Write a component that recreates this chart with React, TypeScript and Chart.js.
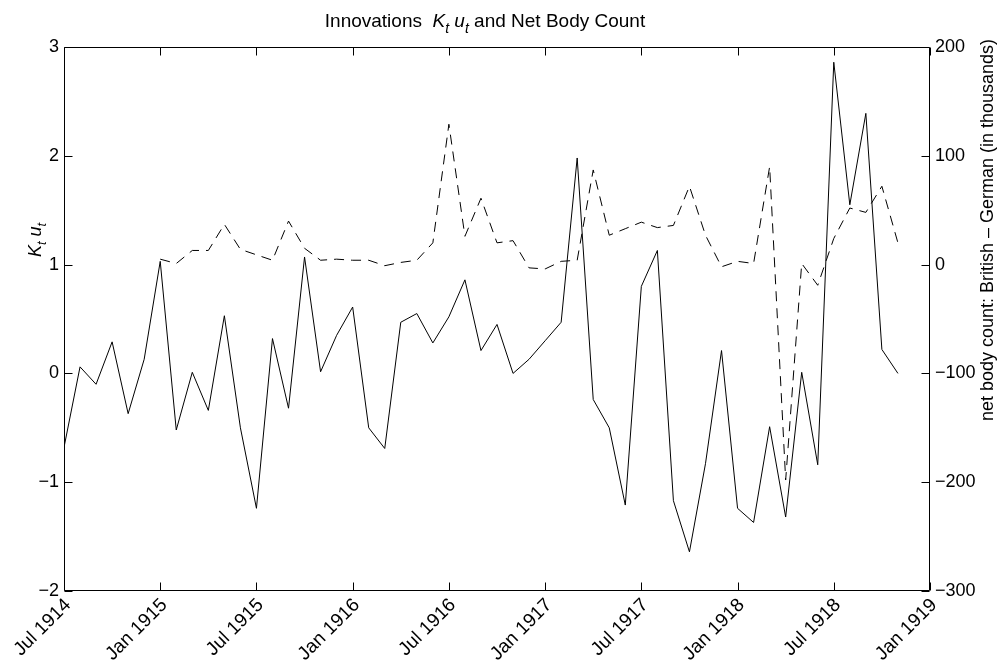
import React, { useEffect, useRef } from "react";
import { Chart, registerables } from "chart.js";

Chart.register(...registerables);

// month index 0 = Jul 1914
const tickMonths = [0, 6, 12, 18, 24, 30, 36, 42, 48, 54];
const tickLabels = [
  "Jul 1914", "Jan 1915", "Jul 1915", "Jan 1916", "Jul 1916",
  "Jan 1917", "Jul 1917", "Jan 1918", "Jul 1918", "Jan 1919",
];

// Innovations K_t u_t, monthly from Jul 1914 to Nov 1918
const kuValues = [
  -0.68, 0.06, -0.10, 0.29, -0.37, 0.13, 1.03, -0.52, 0.01, -0.34,
  0.53, -0.50, -1.24, 0.32, -0.32, 1.07, 0.015, 0.35, 0.61, -0.50,
  -0.69, 0.47, 0.55, 0.28, 0.52, 0.86, 0.21, 0.45, 0.00, 0.13,
  0.30, 0.47, 1.98, -0.24, -0.50, -1.21, 0.80, 1.13, -1.17, -1.64,
  -0.83, 0.21, -1.24, -1.37, -0.49, -1.32, 0.01, -0.84, 2.86, 1.55,
  2.39, 0.22, 0.00,
];

// Net body count (thousands), monthly from Jan 1915 to Nov 1918
const bodyCountStart = 6;
const bodyCountValues = [
  5, 1, 13, 13, 37, 14, 9, 4, 40, 15,
  4, 5, 4, 4, -1, 2, 4, 20, 129, 26,
  61, 20, 22, -3, -4, 3, 4, 87, 27, 33,
  39, 34, 36, 72, 27, -2, 3, 1, 90, -198,
  1, -19, 24, 52, 48, 72, 20,
];

const leftTicks = [-2, -1, 0, 1, 2, 3];
const rightTicks = [-300, -200, -100, 0, 100, 200];

const FONT = "'Liberation Sans', Arial, Helvetica, sans-serif";
const minus = (v: number) => String(v).replace("-", "\u2212");

function drawKU(ctx: CanvasRenderingContext2D, x: number, y: number, size: number) {
  const sub = Math.round(size * 0.72);
  const drop = size * 0.3;
  ctx.font = `italic ${size}px ${FONT}`;
  ctx.fillText("K", x, y);
  x += ctx.measureText("K").width;
  ctx.font = `italic ${sub}px ${FONT}`;
  ctx.fillText("t", x, y + drop);
  x += ctx.measureText("t").width;
  ctx.font = `${size}px ${FONT}`;
  x += ctx.measureText(" ").width;
  ctx.font = `italic ${size}px ${FONT}`;
  ctx.fillText("u", x, y);
  x += ctx.measureText("u").width;
  ctx.font = `italic ${sub}px ${FONT}`;
  ctx.fillText("t", x, y + drop);
  x += ctx.measureText("t").width;
  return x;
}

function widthKU(ctx: CanvasRenderingContext2D, size: number) {
  const sub = Math.round(size * 0.72);
  let w = 0;
  ctx.font = `italic ${size}px ${FONT}`;
  w += ctx.measureText("K").width + ctx.measureText("u").width;
  ctx.font = `italic ${sub}px ${FONT}`;
  w += 2 * ctx.measureText("t").width;
  ctx.font = `${size}px ${FONT}`;
  w += ctx.measureText(" ").width;
  return w;
}

const framePlugin = {
  id: "frame",
  afterDatasetsDraw(chart: any) {
    const ctx: CanvasRenderingContext2D = chart.ctx;
    const { left, right, top, bottom } = chart.chartArea;
    const xs = chart.scales.x;
    const ys = chart.scales.y;
    ctx.save();
    ctx.strokeStyle = "#000";
    ctx.lineWidth = 1;
    const L = Math.round(left) + 0.5;
    const R = Math.round(right) - 0.5;
    const T = Math.round(top) + 0.5;
    const B = Math.round(bottom) - 0.5;
    ctx.beginPath();
    ctx.rect(L, T, R - L, B - T);
    ctx.stroke();
    const tl = 8;
    ctx.beginPath();
    for (const v of tickMonths) {
      const px = Math.round(xs.getPixelForValue(v)) + 0.5;
      ctx.moveTo(px, B);
      ctx.lineTo(px, B - tl);
      ctx.moveTo(px, T);
      ctx.lineTo(px, T + tl);
    }
    for (const v of leftTicks) {
      const py = Math.round(ys.getPixelForValue(v)) + 0.5;
      ctx.moveTo(L, py);
      ctx.lineTo(L + tl, py);
      ctx.moveTo(R, py);
      ctx.lineTo(R - tl, py);
    }
    ctx.stroke();

    ctx.fillStyle = "#000";
    ctx.textBaseline = "alphabetic";
    ctx.textAlign = "left";
    // Title
    const tsize = 19;
    ctx.font = `${tsize}px ${FONT}`;
    const p1 = "Innovations  ";
    const p2 = " and Net Body Count";
    const w1 = ctx.measureText(p1).width;
    const w2 = ctx.measureText(p2).width;
    const wk = widthKU(ctx, tsize);
    const total = w1 + wk + w2;
    let tx = 485 - total / 2;
    const ty = 27;
    ctx.font = `${tsize}px ${FONT}`;
    ctx.fillText(p1, tx, ty);
    tx += w1;
    tx = drawKU(ctx, tx, ty, tsize);
    ctx.font = `${tsize}px ${FONT}`;
    ctx.fillText(p2, tx, ty);

    // Left y label
    ctx.save();
    const lsize = 18;
    ctx.translate(41, 240);
    ctx.rotate(-Math.PI / 2);
    const lw = widthKU(ctx, lsize);
    drawKU(ctx, -lw / 2, 0, lsize);
    ctx.restore();

    // Right y label
    ctx.save();
    ctx.translate(993, 230);
    ctx.rotate(-Math.PI / 2);
    ctx.font = `18px ${FONT}`;
    ctx.textAlign = "center";
    ctx.fillText("net body count: British \u2013 German (in thousands)", 0, 0);
    ctx.restore();

    ctx.restore();
  },
};

export default function App() {
  const ref = useRef<HTMLCanvasElement | null>(null);
  useEffect(() => {
    if (!ref.current) return;
    const chart = new Chart(ref.current, {
      type: "line",
      data: {
        datasets: [
          {
            label: "K_t u_t",
            data: kuValues.map((v, i) => ({ x: i, y: v })),
            borderColor: "#000",
            borderWidth: 1,
            pointRadius: 0,
            tension: 0,
            yAxisID: "y",
          },
          {
            label: "net body count",
            data: bodyCountValues.map((v, j) => ({ x: j + bodyCountStart, y: v })),
            borderColor: "#000",
            borderWidth: 1,
            borderDash: [10, 7],
            pointRadius: 0,
            tension: 0,
            yAxisID: "y2",
          },
        ],
      },
      options: {
        responsive: false,
        animation: false,
        layout: { padding: { top: 47, left: 0, right: 0, bottom: 0 } },
        plugins: {
          legend: { display: false },
          title: { display: false },
          tooltip: { enabled: false },
        },
        scales: {
          x: {
            type: "linear",
            position: "bottom",
            min: 0,
            max: 54,
            grid: { display: false, drawTicks: false },
            border: { display: false },
            afterBuildTicks: (s: any) => {
              s.ticks = tickMonths.map((v) => ({ value: v }));
            },
            afterFit: (s: any) => {
              s.height = 71;
            },
            ticks: {
              autoSkip: false,
              maxRotation: 45,
              minRotation: 45,
              padding: 3,
              labelOffset: 4,
              color: "#000",
              font: { size: 19, family: FONT },
              callback: (v: any) => {
                const k = tickMonths.indexOf(Number(v));
                return k >= 0 ? tickLabels[k] : "";
              },
            },
          },
          y: {
            type: "linear",
            position: "left",
            min: -2,
            max: 3,
            grid: { display: false, drawTicks: false },
            border: { display: false },
            afterBuildTicks: (s: any) => {
              s.ticks = leftTicks.map((v) => ({ value: v }));
            },
            afterFit: (s: any) => {
              s.width = 64;
            },
            ticks: {
              padding: 5,
              color: "#000",
              font: { size: 18, family: FONT },
              callback: (v: any) => minus(Number(v)),
            },
          },
          y2: {
            type: "linear",
            position: "right",
            min: -300,
            max: 200,
            grid: { display: false, drawTicks: false },
            border: { display: false },
            afterBuildTicks: (s: any) => {
              s.ticks = rightTicks.map((v) => ({ value: v }));
            },
            afterFit: (s: any) => {
              s.width = 78;
            },
            ticks: {
              padding: 5,
              color: "#000",
              font: { size: 18, family: FONT },
              callback: (v: any) => minus(Number(v)),
            },
          },
        },
      },
      plugins: [framePlugin],
    });
    return () => chart.destroy();
  }, []);
  return (
    <div style={{ position: "absolute", left: 0, top: 0, width: 1008, height: 662, background: "#fff" }}>
      <canvas ref={ref} width={1008} height={662} style={{ display: "block" }} />
    </div>
  );
}
